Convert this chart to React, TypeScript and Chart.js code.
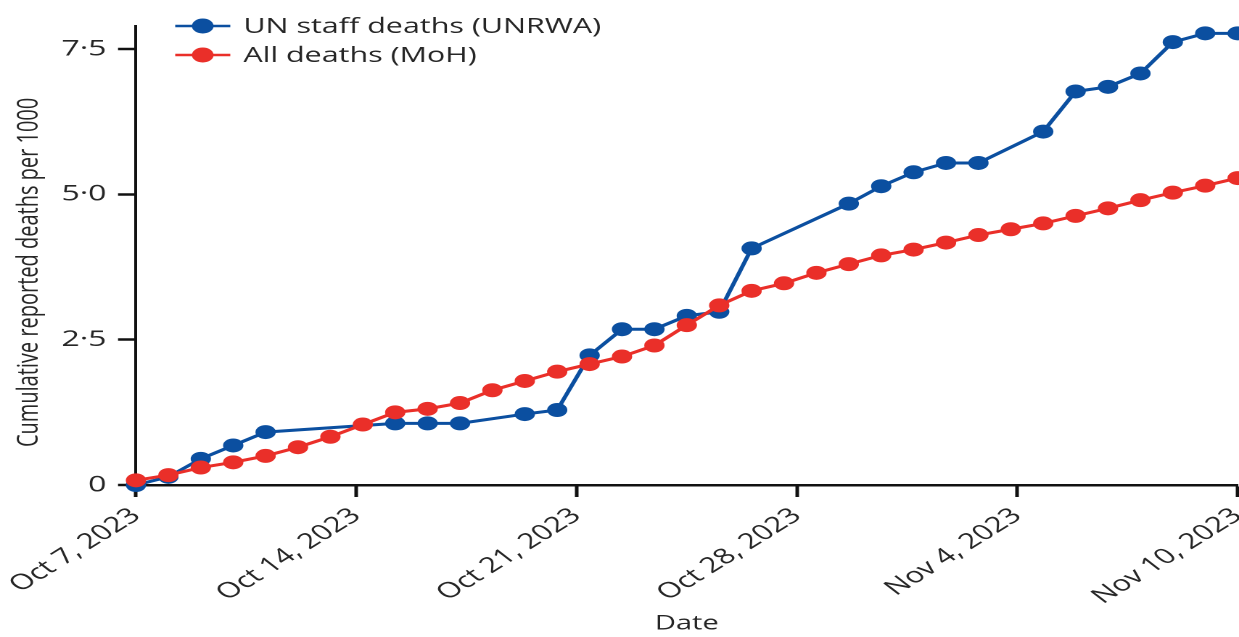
import React, { useEffect, useRef } from "react";
import { Chart, registerables } from "chart.js";

Chart.register(...registerables);

// ---------- data ----------
const SERIES_LABELS = ["UN staff deaths (UNRWA)", "All deaths (MoH)"];
const X_TICK_LABELS = ["Oct 7, 2023", "Oct 14, 2023", "Oct 21, 2023", "Oct 28, 2023", "Nov 4, 2023", "Nov 10, 2023"];
const Y_TICKS = [0, 2.5, 5, 7.5];
const Y_TICK_LABELS = ["0", "2·5", "5·0", "7·5"];
const X_TITLE = "Date";
const Y_TITLE = "Cumulative reported deaths per 1000";

// days since Oct 7, 2023
const UN_DAYS = [0, 1, 2, 3, 4, 8, 9, 10, 12, 13, 14, 15, 16, 17, 18, 19, 22, 23, 24, 25, 26, 28, 29, 30, 31, 32, 33, 34];
const UN_VALUES = [0, 0.14, 0.45, 0.68, 0.91, 1.06, 1.06, 1.06, 1.22, 1.29, 2.23, 2.68, 2.68, 2.91, 2.98, 4.07, 4.84, 5.14, 5.38, 5.54, 5.54, 6.08, 6.77, 6.85, 7.08, 7.62, 7.77, 7.77];

const MOH_DAYS = [0, 1, 2, 3, 4, 5, 6, 7, 8, 9, 10, 11, 12, 13, 14, 15, 16, 17, 18, 19, 20, 21, 22, 23, 24, 25, 26, 27, 28, 29, 30, 31, 32, 33, 34];
const MOH_VALUES = [0.08, 0.17, 0.30, 0.39, 0.50, 0.65, 0.83, 1.04, 1.25, 1.31, 1.41, 1.63, 1.79, 1.95, 2.08, 2.21, 2.40, 2.75, 3.09, 3.34, 3.47, 3.65, 3.80, 3.95, 4.05, 4.17, 4.30, 4.40, 4.50, 4.63, 4.76, 4.90, 5.03, 5.15, 5.28];

const X_MIN = 0;
const X_MAX = 34;
const Y_MIN = 0;
const Y_MAX = 7.9;

// ---------- style ----------
const BLUE = "#0b4fa0";
const RED = "#ea2f29";
const AXIS = "#111111";
const TEXT = "#262626";
const FONT = "'Open Sans', 'Noto Sans', sans-serif";

const FULL_W = 1239;
const FULL_H = 637;
const VIS_W = 854; // visible width before the horizontal stretch
const SX = FULL_W / VIS_W;
const CANVAS_W = 862; // a little wider than visible; the overflow is cropped

const Y_AXIS_BOX = 136 / SX;
const RIGHT_PAD = 1.8;
const TOP_PAD = 25.8;
const X_AXIS_BOX = 152;

const lineDotLegend = {
  id: "lineDotLegend",
  afterDraw(chart: any) {
    const ctx = chart.ctx as CanvasRenderingContext2D;
    const area = chart.chartArea;
    [0, 1].forEach((di, row) => {
      const ds = chart.data.datasets[di];
      const y = 26 + row * 29;
      const x0 = area.left + 27;
      const len = 38;
      ctx.save();
      ctx.strokeStyle = ds.borderColor;
      ctx.lineWidth = 2.5;
      ctx.beginPath();
      ctx.moveTo(x0, y);
      ctx.lineTo(x0 + len, y);
      ctx.stroke();
      ctx.fillStyle = ds.borderColor;
      ctx.beginPath();
      ctx.arc(x0 + len / 2, y, 7.5, 0, Math.PI * 2);
      ctx.fill();
      ctx.fillStyle = TEXT;
      ctx.font = `21px ${FONT}`;
      ctx.textBaseline = "middle";
      ctx.textAlign = "left";
      ctx.fillText(ds.label, x0 + len + 9, y + 1);
      ctx.restore();
    });
  },
};

const yTitlePlugin = {
  id: "yTitle",
  afterDraw(chart: any) {
    const ctx = chart.ctx as CanvasRenderingContext2D;
    const area = chart.chartArea;
    ctx.save();
    ctx.translate(20.5, (area.top + area.bottom) / 2 + 17);
    ctx.rotate(-Math.PI / 2);
    ctx.fillStyle = TEXT;
    ctx.font = `20px ${FONT}`;
    ctx.textAlign = "center";
    ctx.textBaseline = "middle";
    ctx.fillText(Y_TITLE, 0, 0);
    ctx.restore();
  },
};

export default function App() {
  const canvasRef = useRef<HTMLCanvasElement | null>(null);

  useEffect(() => {
    if (!canvasRef.current) return;
    const chart = new Chart(canvasRef.current, {
      type: "line",
      data: {
        datasets: [
          {
            label: SERIES_LABELS[0],
            data: UN_DAYS.map((d, i) => ({ x: d, y: UN_VALUES[i] })),
            borderColor: BLUE,
            backgroundColor: BLUE,
            borderWidth: 3,
            pointRadius: 7,
            pointHoverRadius: 7,
            pointBorderWidth: 0,
            tension: 0,
            clip: false as any,
            order: 2,
          },
          {
            label: SERIES_LABELS[1],
            data: MOH_DAYS.map((d, i) => ({ x: d, y: MOH_VALUES[i] })),
            borderColor: RED,
            backgroundColor: RED,
            borderWidth: 3,
            pointRadius: 7,
            pointHoverRadius: 7,
            pointBorderWidth: 0,
            tension: 0,
            clip: false as any,
            order: 1,
          },
        ],
      },
      options: {
        animation: false,
        responsive: false,
        maintainAspectRatio: false,
        devicePixelRatio: 2,
        layout: {
          padding: { left: 0, right: CANVAS_W - 1235 / SX - RIGHT_PAD, top: TOP_PAD, bottom: 0 },
        },
        plugins: {
          legend: { display: false },
          tooltip: { enabled: false },
        },
        scales: {
          x: {
            type: "linear",
            min: X_MIN,
            max: X_MAX,
            afterBuildTicks: (s: any) => {
              const n = X_TICK_LABELS.length - 1;
              s.ticks = X_TICK_LABELS.map((_, i) => ({ value: X_MIN + (i * (X_MAX - X_MIN)) / n }));
            },
            afterFit: (s: any) => {
              s.paddingLeft = 0;
              s.paddingRight = 0;
              s.height = X_AXIS_BOX;
            },
            ticks: {
              autoSkip: false,
              minRotation: 42,
              maxRotation: 42,
              padding: 6,
              color: TEXT,
              font: { family: FONT, size: 21.5 },
              callback: (_v: any, i: number) => X_TICK_LABELS[i],
            },
            grid: {
              display: true,
              drawOnChartArea: false,
              drawTicks: true,
              tickLength: 12,
              tickWidth: 2.5,
              tickColor: AXIS,
            },
            border: { display: true, color: AXIS, width: 2.5 },
            title: {
              display: true,
              text: X_TITLE,
              color: TEXT,
              font: { family: FONT, size: 20 },
              padding: { top: 0, bottom: 1 },
            },
          },
          y: {
            min: Y_MIN,
            max: Y_MAX,
            afterBuildTicks: (s: any) => {
              s.ticks = Y_TICKS.map((v) => ({ value: v }));
            },
            afterFit: (s: any) => {
              s.width = Y_AXIS_BOX;
              s.paddingTop = 0;
              s.paddingBottom = 0;
            },
            ticks: {
              padding: 8,
              color: TEXT,
              font: { family: FONT, size: 22 },
              callback: (_v: any, i: number) => Y_TICK_LABELS[i],
            },
            grid: {
              display: true,
              drawOnChartArea: false,
              drawTicks: true,
              tickLength: 12.4,
              tickWidth: 2.5,
              tickColor: AXIS,
            },
            border: { display: true, color: AXIS, width: 2 },
            title: { display: false, text: Y_TITLE },
          },
        },
      },
      plugins: [lineDotLegend, yTitlePlugin],
    });
    return () => chart.destroy();
  }, []);

  return (
    <div
      style={{
        position: "fixed",
        left: 0,
        top: 0,
        width: FULL_W,
        height: FULL_H,
        overflow: "hidden",
        background: "#ffffff",
      }}
    >
      <div
        style={{
          width: CANVAS_W,
          height: FULL_H,
          transform: `scaleX(${SX})`,
          transformOrigin: "0 0",
        }}
      >
        <canvas ref={canvasRef} width={CANVAS_W} height={FULL_H} />
      </div>
    </div>
  );
}
